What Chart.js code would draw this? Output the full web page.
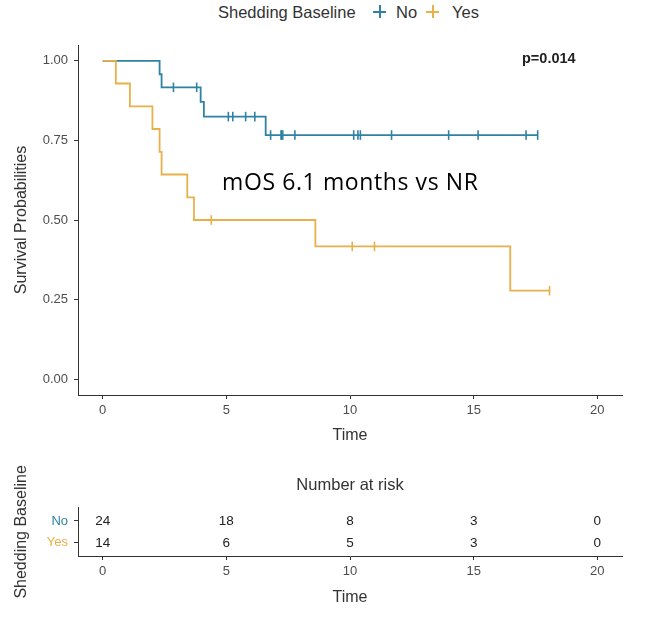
<!DOCTYPE html>
<html>
<head>
<meta charset="utf-8">
<script src="https://cdn.jsdelivr.net/npm/chart.js@4.4.1/dist/chart.umd.min.js"></script>
<style>
    html, body { margin: 0; padding: 0; background: #fff; }
    #wrap { position: relative; width: 653px; height: 618px; font-family: "Liberation Sans", Arial, sans-serif; }
    #main { position: absolute; left: 0; top: 0; }
    #risk { position: absolute; left: 0; top: 455px; }
    .lg { position: absolute; top: 2px; font-size: 16.5px; color: #333; line-height: 20px; }
    .key { position: absolute; top: 5px; width: 13px; height: 13px; }
    #pval { position: absolute; left: 522px; top: 50px; font-size: 14.5px; font-weight: bold; color: #222; }
    #mos { position: absolute; left: 222px; top: 165px; font-family: "Open Sans", sans-serif; font-size: 23px; letter-spacing: 0.6px; color: #000; }
</style>
</head>
<body>
<div id="wrap">
    <span class="lg" style="left:218px">Shedding Baseline</span>
    <span class="key" id="keyNo" style="left:373px"></span>
    <span class="lg" style="left:396px">No</span>
    <span class="key" id="keyYes" style="left:426px"></span>
    <span class="lg" style="left:452px">Yes</span>
    <canvas id="main" width="653" height="455"></canvas>
    <canvas id="risk" width="653" height="163"></canvas>
    <div id="pval">p=0.014</div>
    <div id="mos">mOS 6.1 months vs NR</div>
</div>
<script>
const COL_NO = '#2F82A3';
const COL_YES = '#E8B04A';

// Kaplan-Meier steps (time in months, survival)
const noTimes = [0, 2.30, 2.38, 3.96, 4.09, 6.59, 17.59];
const noSurv = [1, 0.958, 0.917, 0.871, 0.825, 0.767, 0.767];
const noCensor = [2.86, 3.80, 5.08, 5.26, 5.78, 6.15, 6.79, 7.22, 7.22, 7.28, 7.77, 10.15, 10.32, 10.42, 11.68, 13.99, 15.18, 17.12, 17.59];

const yesTimes = [0, 0.53, 1.10, 2.01, 2.30, 2.38, 3.42, 3.69, 8.60, 16.48, 18.07];
const yesSurv = [1, 0.929, 0.857, 0.786, 0.714, 0.643, 0.571, 0.500, 0.417, 0.278, 0.278];
const yesCensor = [4.39, 10.09, 10.99, 18.07];

const xTicks = [0, 5, 10, 15, 20];
const yTicks = [0, 0.25, 0.5, 0.75, 1];

const riskTimes = [0, 5, 10, 15, 20];
const riskNo = [24, 18, 8, 3, 0];
const riskYes = [14, 6, 5, 3, 0];

function paintKey(id, c) {
    document.getElementById(id).style.background =
        `linear-gradient(${c},${c}) center/100% 2px no-repeat, linear-gradient(${c},${c}) center/2px 100% no-repeat`;
}
paintKey('keyNo', COL_NO);
paintKey('keyYes', COL_YES);

function survAt(times, surv, t) {
    let s = surv[0];
    times.forEach((tt, i) => { if (tt <= t) s = surv[i]; });
    return s;
}

Chart.defaults.font.family = '"Liberation Sans", Arial, sans-serif';
Chart.defaults.animation = false;

const axisGrid = { drawOnChartArea: false, drawTicks: true, tickLength: 4, tickColor: '#333', lineWidth: 1 };
const axisBorder = { display: true, color: '#333', width: 1 };

function curve(times, surv, color, order) {
    return {
        data: times.map((t, i) => ({ x: t, y: surv[i] })),
        borderColor: color, borderWidth: 1.8, stepped: true,
        pointRadius: 0, fill: false, order
    };
}
function censors(cens, times, surv, color, order) {
    return {
        data: cens.map(t => ({ x: t, y: survAt(times, surv, t) })),
        showLine: false, pointStyle: 'line', rotation: 90, pointRadius: 4.8,
        pointBorderWidth: 1.6, pointBorderColor: color, borderColor: color, order
    };
}

new Chart(document.getElementById('main'), {
    type: 'line',
    data: {
        datasets: [
            curve(yesTimes, yesSurv, COL_YES, 1),
            censors(yesCensor, yesTimes, yesSurv, COL_YES, 0),
            curve(noTimes, noSurv, COL_NO, 3),
            censors(noCensor, noTimes, noSurv, COL_NO, 2)
        ]
    },
    options: {
        responsive: false,
        layout: { padding: { top: 45, right: 31, bottom: 0, left: 0 } },
        plugins: { legend: { display: false }, tooltip: { enabled: false } },
        scales: {
            x: {
                type: 'linear', min: -1, max: 21,
                afterBuildTicks: s => { s.ticks = xTicks.map(v => ({ value: v })); },
                afterFit: s => { s.height = 60; },
                grid: axisGrid, border: axisBorder,
                ticks: { color: '#4d4d4d', font: { size: 13 }, padding: 4, maxRotation: 0, autoSkip: false },
                title: { display: true, text: 'Time', color: '#333', font: { size: 16 }, padding: { top: 0, bottom: 10 } }
            },
            y: {
                type: 'linear', min: -0.05, max: 1.05,
                afterBuildTicks: s => { s.ticks = yTicks.map(v => ({ value: v })); },
                afterFit: s => { s.width = 78; },
                grid: axisGrid, border: axisBorder,
                ticks: { color: '#4d4d4d', font: { size: 13 }, padding: 6, callback: v => v.toFixed(2) },
                title: { display: true, text: 'Survival Probabilities', color: '#333', font: { size: 16 }, padding: { top: 12, bottom: 0 } }
            }
        }
    }
});

// numbers at risk, drawn at the points' positions
const riskLabels = {
    id: 'riskLabels',
    afterDatasetsDraw(chart) {
        const ctx = chart.ctx;
        ctx.save();
        ctx.font = '13.5px "Liberation Sans", Arial, sans-serif';
        ctx.fillStyle = '#222';
        ctx.textAlign = 'center';
        ctx.textBaseline = 'middle';
        chart.data.datasets.forEach((ds, di) => {
            chart.getDatasetMeta(di).data.forEach((pt, i) => ctx.fillText(String(ds.data[i].n), pt.x, pt.y));
        });
        ctx.restore();
    }
};

new Chart(document.getElementById('risk'), {
    type: 'scatter',
    data: {
        datasets: [
            { data: riskTimes.map((t, i) => ({ x: t, y: 2, n: riskNo[i] })), pointRadius: 0 },
            { data: riskTimes.map((t, i) => ({ x: t, y: 1, n: riskYes[i] })), pointRadius: 0 }
        ]
    },
    plugins: [riskLabels],
    options: {
        responsive: false,
        layout: { padding: { top: 0, right: 31, bottom: 0, left: 0 } },
        plugins: {
            legend: { display: false }, tooltip: { enabled: false },
            title: { display: true, text: 'Number at risk', fullSize: false, color: '#333', font: { size: 16.5, weight: 'normal' }, padding: { top: 21, bottom: 12 } }
        },
        scales: {
            x: {
                type: 'linear', min: -1, max: 21,
                afterBuildTicks: s => { s.ticks = xTicks.map(v => ({ value: v })); },
                afterFit: s => { s.height = 62; },
                grid: axisGrid, border: axisBorder,
                ticks: { color: '#4d4d4d', font: { size: 13 }, padding: 4, maxRotation: 0, autoSkip: false },
                title: { display: true, text: 'Time', color: '#333', font: { size: 16 }, padding: { top: 0, bottom: 11 } }
            },
            y: {
                type: 'linear', min: 0.4, max: 2.6,
                afterBuildTicks: s => { s.ticks = [1, 2].map(v => ({ value: v })); },
                afterFit: s => { s.width = 78; },
                grid: axisGrid, border: axisBorder,
                ticks: {
                    font: { size: 13 }, padding: 6,
                    color: c => (c.tick && c.tick.value === 2) ? COL_NO : COL_YES,
                    callback: v => v === 2 ? 'No' : 'Yes'
                },
                title: { display: true, text: 'Shedding Baseline', color: '#333', font: { size: 16 }, padding: { top: 12, bottom: 0 } }
            }
        }
    }
});
</script>
</body>
</html>
